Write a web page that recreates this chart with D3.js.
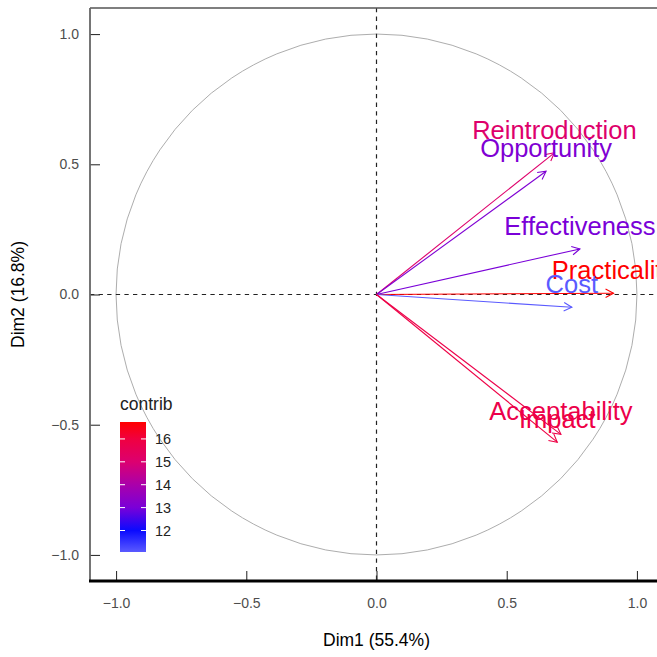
<!DOCTYPE html>
<html>
<head>
<meta charset="utf-8">
<script src="https://cdn.jsdelivr.net/npm/d3@7"></script>
<style>
  html, body { margin: 0; padding: 0; background: #fff; }
  svg { display: block; font-family: "Liberation Sans", Arial, sans-serif; }
</style>
</head>
<body>
<svg id="chart" width="657" height="657"></svg>
<script>
// ---- data ----
const variables = ["Reintroduction", "Opportunity", "Effectiveness", "Practicality", "Cost", "Acceptability", "Impact"];
const dim1 = [0.683, 0.651, 0.781, 0.910, 0.750, 0.708, 0.694];
const dim2 = [0.544, 0.473, 0.175, 0.005, -0.049, -0.537, -0.567];
const contrib = [15.1, 13.1, 13.0, 16.74, 11.06, 15.8, 15.9];
const axisTicks = [-1.0, -0.5, 0.0, 0.5, 1.0];
const legendTicks = [12, 13, 14, 15, 16];
const contribStops = [11.06, 12, 13, 14, 15, 16, 16.74];
const colorStops = ["#5a5aff", "#0a0aff", "#7a00d8", "#aa00aa", "#dc0070", "#f00040", "#ff0000"];
const xTitle = "Dim1 (55.4%)";
const yTitle = "Dim2 (16.8%)";
const legendTitle = "contrib";

// ---- setup ----
const svg = d3.select("#chart");
const pLeft = 90, pTop = 8, pBottom = 581;
const unit = (pBottom - pTop) / 2.2;
const x = d3.scaleLinear().domain([-1.1, 1.1]).range([pLeft, pLeft + 2.2 * unit]);
const y = d3.scaleLinear().domain([-1.1, 1.1]).range([pBottom, pTop]);
const color = d3.scaleLinear().domain(contribStops).range(colorStops).interpolate(d3.interpolateRgb).clamp(true);

const rows = variables.map((v, i) => ({ name: v, x: dim1[i], y: dim2[i], c: contrib[i] }));

// circle
svg.append("circle")
  .attr("cx", x(0)).attr("cy", y(0))
  .attr("r", x(1) - x(0))
  .attr("fill", "none").attr("stroke", "#adadad").attr("stroke-width", 1);

// dashed reference lines
svg.append("line")
  .attr("x1", x(0)).attr("x2", x(0)).attr("y1", pTop).attr("y2", pBottom)
  .attr("stroke", "#222").attr("stroke-width", 1.2).attr("stroke-dasharray", "4.3,4.3");
svg.append("line")
  .attr("x1", pLeft).attr("x2", 657).attr("y1", y(0)).attr("y2", y(0))
  .attr("stroke", "#222").attr("stroke-width", 1.2).attr("stroke-dasharray", "4.3,4.3");

// arrows
const headLen = 9, headAng = 28 * Math.PI / 180;
const g = svg.append("g");
rows.forEach(d => {
  const x0 = x(0), y0 = y(0), x1 = x(d.x), y1 = y(d.y);
  const ang = Math.atan2(y1 - y0, x1 - x0);
  const col = color(d.c);
  g.append("line")
    .attr("x1", x0).attr("y1", y0).attr("x2", x1).attr("y2", y1)
    .attr("stroke", col).attr("stroke-width", 1.1);
  const p = d3.path();
  p.moveTo(x1 - headLen * Math.cos(ang - headAng), y1 - headLen * Math.sin(ang - headAng));
  p.lineTo(x1, y1);
  p.lineTo(x1 - headLen * Math.cos(ang + headAng), y1 - headLen * Math.sin(ang + headAng));
  g.append("path").attr("d", p.toString())
    .attr("fill", "none").attr("stroke", col).attr("stroke-width", 1.1);
});

// labels
svg.append("g").selectAll("text").data(rows).join("text")
  .attr("x", d => x(d.x))
  .attr("y", d => y(d.y) - 14)
  .attr("text-anchor", "middle")
  .attr("font-size", 25.5)
  .attr("fill", d => color(d.c))
  .text(d => d.name);

// axes
const fmt = d3.format(".1f");
const xAxis = svg.append("g").attr("transform", `translate(0,${pBottom})`)
  .call(d3.axisBottom(x).tickValues(axisTicks).tickFormat(fmt).tickSizeInner(-10).tickSizeOuter(0).tickPadding(17));
const yAxis = svg.append("g").attr("transform", `translate(${pLeft},0)`)
  .call(d3.axisLeft(y).tickValues(axisTicks).tickFormat(fmt).tickSizeInner(-10).tickSizeOuter(0).tickPadding(11));
[xAxis, yAxis].forEach(a => {
  a.select(".domain").remove();
  a.selectAll(".tick line").attr("stroke", "#333").attr("stroke-width", 1.1);
  a.selectAll(".tick text").attr("fill", "#4d4d4d").attr("font-size", 14)
    .attr("font-family", "\"Liberation Sans\", Arial, sans-serif");
});

// panel lines
svg.append("line").attr("x1", pLeft).attr("x2", 657).attr("y1", pTop).attr("y2", pTop)
  .attr("stroke", "#555").attr("stroke-width", 1.6);
svg.append("line").attr("x1", pLeft).attr("x2", pLeft).attr("y1", pTop).attr("y2", pBottom)
  .attr("stroke", "#666").attr("stroke-width", 1.8);
svg.append("line").attr("x1", pLeft - 1).attr("x2", 657).attr("y1", pBottom).attr("y2", pBottom)
  .attr("stroke", "#000").attr("stroke-width", 3);

// axis titles
svg.append("text").attr("x", x(0)).attr("y", 646)
  .attr("text-anchor", "middle").attr("font-size", 17.5).attr("fill", "#000").text(xTitle);
svg.append("text").attr("transform", `translate(24,${y(0)}) rotate(-90)`)
  .attr("text-anchor", "middle").attr("font-size", 17.5).attr("fill", "#000").text(yTitle);

// legend
const legX = 120, legW = 26;
const lo = contribStops[0], hi = contribStops[contribStops.length - 1];
const ly = d3.scaleLinear().domain([lo, hi]).range([552, 422]);
const defs = svg.append("defs");
const grad = defs.append("linearGradient").attr("id", "cgrad")
  .attr("x1", "0").attr("y1", "1").attr("x2", "0").attr("y2", "0");
contribStops.forEach((v, i) => {
  grad.append("stop").attr("offset", (v - lo) / (hi - lo)).attr("stop-color", colorStops[i]);
});
svg.append("rect").attr("x", legX).attr("y", ly(hi)).attr("width", legW).attr("height", ly(lo) - ly(hi))
  .attr("fill", "url(#cgrad)");
const lt = svg.append("g");
legendTicks.forEach(v => {
  lt.append("line").attr("x1", legX).attr("x2", legX + 5).attr("y1", ly(v)).attr("y2", ly(v))
    .attr("stroke", "#fff").attr("stroke-width", 1);
  lt.append("line").attr("x1", legX + legW - 5).attr("x2", legX + legW).attr("y1", ly(v)).attr("y2", ly(v))
    .attr("stroke", "#fff").attr("stroke-width", 1);
  lt.append("text").attr("x", 155).attr("y", ly(v)).attr("dy", "0.35em")
    .attr("font-size", 14.5).attr("fill", "#222").text(v);
});
svg.append("text").attr("x", legX).attr("y", 410).attr("font-size", 17.5).attr("fill", "#222").text(legendTitle);
</script>
</body>
</html>
